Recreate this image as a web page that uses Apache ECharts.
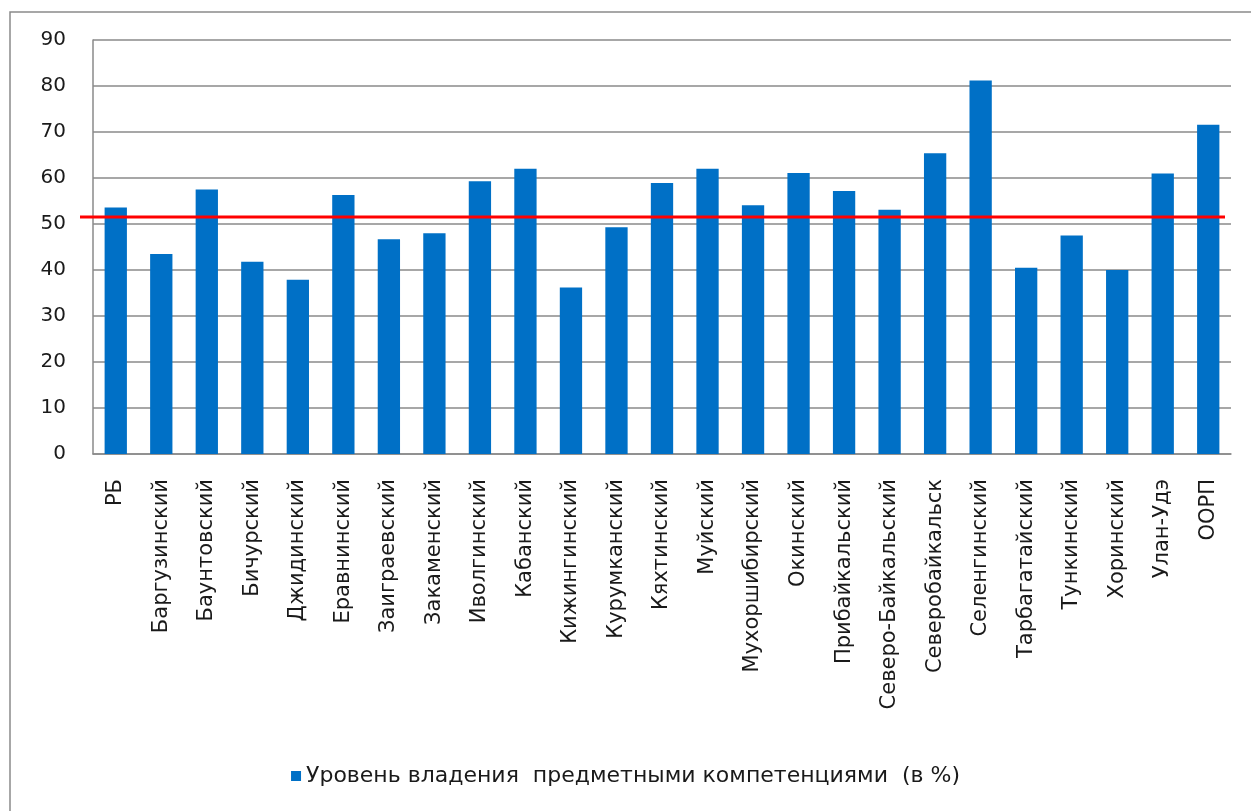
<!DOCTYPE html>
<html>
<head>
<meta charset="utf-8">
<script src="https://cdn.jsdelivr.net/npm/echarts@6/dist/echarts.min.js"></script>
<style>
html,body{margin:0;padding:0;background:#fff;}
#chart{width:1251px;height:811px;}
</style>
</head>
<body>
<div id="chart"></div>
<script>
const categories = ['РБ','Баргузинский','Баунтовский','Бичурский','Джидинский','Еравнинский','Заиграевский','Закаменский','Иволгинский','Кабанский','Кижингинский','Курумканский','Кяхтинский','Муйский','Мухоршибирский','Окинский','Прибайкальский','Северо-Байкальский','Северобайкальск','Селенгинский','Тарбагатайский','Тункинский','Хоринский','Улан-Удэ','ООРП'];
const values = [53.6,43.5,57.5,41.8,37.9,56.3,46.7,48.0,59.3,62.0,36.2,49.3,58.9,62.0,54.1,61.1,57.2,53.1,65.4,81.2,40.5,47.5,40.0,61.0,71.6];
const seriesName = 'Уровень владения  предметными компетенциями  (в %)';
const referenceLevel = [51.5, 51.5];
const yTicks = {min: 0, max: 90, interval: 10};

const chart = echarts.init(document.getElementById('chart'), null, {renderer: 'canvas'});
const font = 'DejaVu Sans';
chart.setOption({
  animation: false,
  backgroundColor: '#ffffff',
  graphic: [{
    type: 'rect',
    shape: {x: 10, y: 12, width: 1300, height: 900},
    style: {fill: 'none', stroke: '#8a8a8a', lineWidth: 1.5},
    silent: true, z: -10
  }],
  grid: [
    {left: 93, right: 20, top: 40, bottom: 357, containLabel: false},
    {left: 80, right: 26, top: 40, bottom: 357, containLabel: false}
  ],
  legend: {
    data: [seriesName],
    bottom: 19,
    left: 'center',
    icon: 'rect',
    itemWidth: 10,
    itemHeight: 10,
    itemGap: 6,
    textStyle: {fontFamily: font, fontSize: 22, color: '#1a1a1a'}
  },
  xAxis: [{
    type: 'category',
    gridIndex: 0,
    data: categories,
    axisLine: {lineStyle: {color: '#8a8a8a', width: 1.5}},
    axisTick: {show: false},
    axisLabel: {rotate: 90, interval: 0, margin: 25, fontFamily: font, fontSize: 21, color: '#1a1a1a'}
  }, {
    type: 'category',
    gridIndex: 1,
    data: ['a','b'],
    boundaryGap: false,
    show: false
  }],
  yAxis: [{
    type: 'value',
    gridIndex: 0,
    min: yTicks.min, max: yTicks.max, interval: yTicks.interval,
    axisLine: {show: true, lineStyle: {color: '#8a8a8a', width: 1.5}},
    axisTick: {show: false},
    splitLine: {lineStyle: {color: '#8a8a8a', width: 1.5}},
    axisLabel: {margin: 27, fontFamily: font, fontSize: 20, color: '#1a1a1a'}
  }, {
    type: 'value',
    gridIndex: 1,
    min: yTicks.min, max: yTicks.max, interval: yTicks.interval,
    show: false
  }],
  series: [{
    name: seriesName,
    type: 'bar',
    xAxisIndex: 0, yAxisIndex: 0,
    data: values,
    barWidth: '49%',
    itemStyle: {color: '#0070c6'}
  }, {
    type: 'line',
    xAxisIndex: 1, yAxisIndex: 1,
    data: referenceLevel,
    symbol: 'none',
    lineStyle: {color: '#ff0000', width: 3},
    z: 10
  }]
});
</script>
</body>
</html>
